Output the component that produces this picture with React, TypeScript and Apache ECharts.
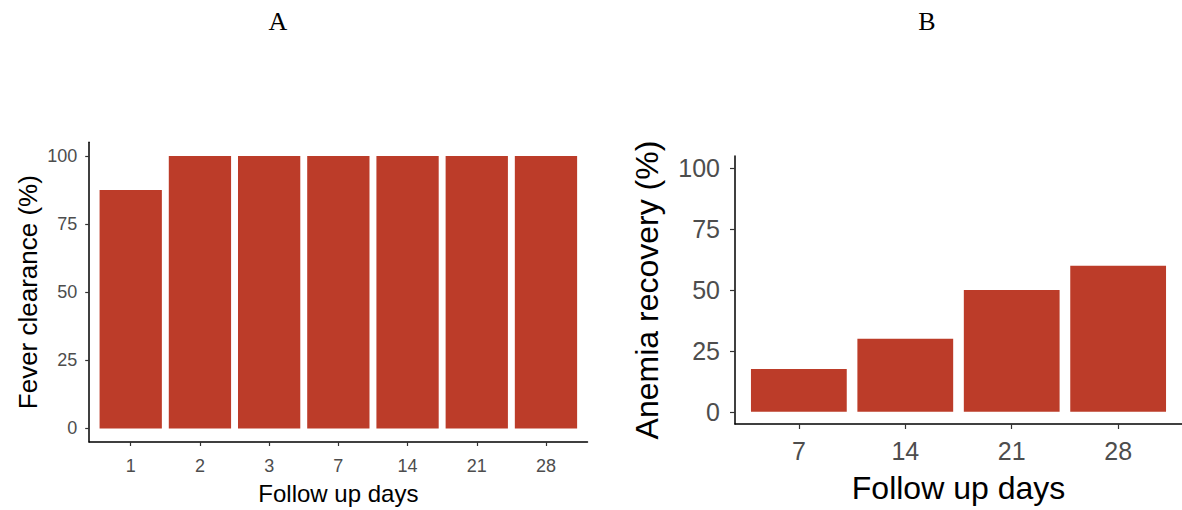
import React, { useEffect, useRef } from "react";
import * as echarts from "echarts";

const panelTitles = ["A", "B"];
const feverDays = ["1", "2", "3", "7", "14", "21", "28"];
const feverClearance = [87.5, 100, 100, 100, 100, 100, 100];
const anemiaDays = ["7", "14", "21", "28"];
const anemiaRecovery = [17.6, 30, 50, 60];
const yTicks = [0, 25, 50, 75, 100];
const xTitle = "Follow up days";
const yTitleA = "Fever clearance (%)";
const yTitleB = "Anemia recovery (%)";

const RED = "#BC3C29";
const FONT = "Liberation Sans, Arial, sans-serif";
const TITLE_FONT = "Liberation Serif, Times New Roman, serif";

export default function App() {
  const ref = useRef<HTMLDivElement>(null);
  useEffect(() => {
    if (!ref.current) return;
    const chart = echarts.init(ref.current, undefined, { renderer: "svg" });
    const posA = feverDays.map((_, i) => i + 1);
    const posB = anemiaDays.map((_, i) => i + 1);

    const xAxis = (
      grid: number,
      pos: number[],
      labels: string[],
      labelSize: number,
      titleSize: number,
      margin: number,
      nameGap: number,
      tickLen: number
    ) => ({
      gridIndex: grid,
      type: "value",
      min: 0.4,
      max: pos.length + 0.6,
      name: xTitle,
      nameLocation: "middle",
      nameGap,
      nameTextStyle: { fontFamily: FONT, fontSize: titleSize, color: "#000" },
      axisLine: { show: true, onZero: false, lineStyle: { color: "#000", width: 1.5 } },
      axisTick: { show: true, customValues: pos, length: tickLen, lineStyle: { color: "#333", width: 1.2 } },
      axisLabel: {
        show: true,
        customValues: pos,
        margin,
        fontFamily: FONT,
        fontSize: labelSize,
        color: "#4D4D4D",
        formatter: (v: number) => labels[Math.round(v) - 1] ?? "",
      },
      splitLine: { show: false },
    });

    const yAxis = (
      grid: number,
      title: string,
      labelSize: number,
      titleSize: number,
      margin: number,
      nameGap: number,
      tickLen: number
    ) => ({
      gridIndex: grid,
      type: "value",
      min: -5,
      max: 105,
      name: title,
      nameLocation: "middle",
      nameGap,
      nameTextStyle: { fontFamily: FONT, fontSize: titleSize, color: "#000" },
      axisLine: { show: true, onZero: false, lineStyle: { color: "#000", width: 1.5 } },
      axisTick: { show: true, customValues: yTicks, length: tickLen, lineStyle: { color: "#333", width: 1.2 } },
      axisLabel: {
        show: true,
        customValues: yTicks,
        margin,
        fontFamily: FONT,
        fontSize: labelSize,
        color: "#4D4D4D",
      },
      splitLine: { show: false },
    });

    const panelTitle = (text: string, x: number) => ({
      type: "text",
      x,
      y: 21,
      style: {
        text,
        fontFamily: TITLE_FONT,
        fontSize: 26,
        fill: "#000",
        align: "center",
        verticalAlign: "middle",
      },
    });

    chart.setOption({
      animation: false,
      backgroundColor: "#fff",
      grid: [
        { left: 89.2, top: 142.3, width: 498.3, height: 300.6 },
        { left: 735, top: 156, width: 459.5, height: 268 },
      ],
      xAxis: [
        xAxis(0, posA, feverDays, 18, 24, 15, 39, 4),
        xAxis(1, posB, anemiaDays, 25, 32, 14, 48, 5),
      ],
      yAxis: [
        yAxis(0, yTitleA, 18, 26, 12, 48, 4),
        yAxis(1, yTitleB, 25, 32, 15, 72, 5),
      ],
      graphic: [panelTitle(panelTitles[0], 278), panelTitle(panelTitles[1], 927)],
      series: [
        {
          type: "bar",
          xAxisIndex: 0,
          yAxisIndex: 0,
          barWidth: "90%",
          data: posA.map((p, i) => [p, feverClearance[i]]),
          itemStyle: { color: RED },
        },
        {
          type: "bar",
          xAxisIndex: 1,
          yAxisIndex: 1,
          barWidth: "90%",
          data: posB.map((p, i) => [p, anemiaRecovery[i]]),
          itemStyle: { color: RED },
        },
      ],
    });
    return () => chart.dispose();
  }, []);
  return (
    <div
      ref={ref}
      style={{ position: "fixed", left: 0, top: 0, width: 1182, height: 510, background: "#fff" }}
    />
  );
}
